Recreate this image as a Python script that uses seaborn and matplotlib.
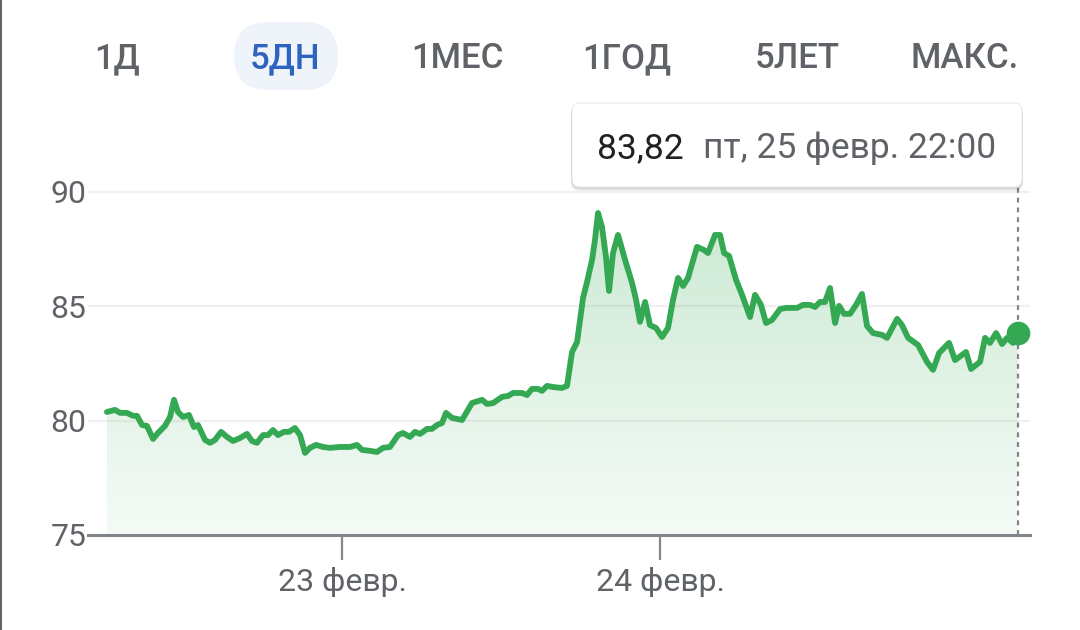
import numpy as np
import pandas as pd
import matplotlib
matplotlib.use("Agg")
import matplotlib.pyplot as plt
import seaborn as sns
from matplotlib.patches import FancyBboxPatch
from matplotlib.lines import Line2D

# ---- data (hours since 22 Feb 00:00, price) ----
hours = [6.26, 6.87, 7.25, 7.77, 8.23, 8.53, 8.91, 9.28, 9.74, 10.11,
         10.64, 11.02, 11.32, 11.62, 12.00, 12.45, 12.83, 13.13, 13.66, 14.04,
         14.42, 14.87, 15.32, 15.77, 16.30, 16.83, 17.21, 17.58, 18.04, 18.42,
         18.79, 19.17, 19.62, 20.00, 20.45, 20.83, 21.21, 21.58, 22.04, 22.57,
         23.09, 23.85, 24.60, 25.13, 25.51, 26.11, 26.64, 27.09, 27.62, 28.23,
         28.60, 29.13, 29.51, 29.89, 30.42, 30.79, 31.17, 31.55, 31.85, 32.30,
         33.06, 33.81, 34.57, 34.94, 35.40, 36.08, 36.53, 36.91, 37.58, 37.96,
         38.34, 38.79, 39.09, 39.47, 39.92, 40.60, 40.98, 41.36, 41.74, 42.19,
         42.49, 42.87, 43.09, 43.32, 43.62, 43.92, 44.15, 44.45, 44.83, 45.36,
         45.89, 46.19, 46.49, 46.87, 47.24, 47.70, 48.15, 48.60, 48.98, 49.36,
         49.74, 50.11, 50.79, 51.32, 51.62, 52.15, 52.53, 52.83, 53.21, 53.74,
         54.19, 54.79, 55.17, 55.62, 56.00, 56.45, 57.06, 57.51, 58.34, 58.79,
         59.32, 59.70, 60.07, 60.45, 60.83, 61.21, 61.51, 61.89, 62.34, 62.79,
         63.24, 63.62, 64.07, 64.75, 65.13, 65.89, 66.26, 66.72, 67.47, 68.15,
         68.60, 69.06, 69.81, 70.26, 71.09, 71.47, 72.15, 72.53, 72.90, 73.36,
         73.81, 74.19, 74.64, 75.02]
price = [80.38, 80.47, 80.34, 80.34, 80.21, 80.21, 79.81, 79.77, 79.20, 79.46,
         79.77, 80.16, 80.91, 80.38, 80.16, 80.25, 79.72, 79.81, 79.16, 79.03,
         79.16, 79.51, 79.29, 79.11, 79.24, 79.42, 79.11, 79.03, 79.37, 79.37,
         79.59, 79.37, 79.51, 79.51, 79.68, 79.37, 78.59, 78.81, 78.94, 78.85,
         78.81, 78.85, 78.85, 78.94, 78.72, 78.68, 78.63, 78.81, 78.85, 79.37,
         79.46, 79.29, 79.51, 79.42, 79.64, 79.64, 79.81, 79.90, 80.34, 80.12,
         80.03, 80.77, 80.91, 80.73, 80.77, 81.04, 81.08, 81.21, 81.21, 81.12,
         81.39, 81.39, 81.30, 81.52, 81.47, 81.43, 81.52, 83.00, 83.44, 85.37,
         86.06, 87.03, 87.90, 89.08, 88.47, 87.16, 85.67, 87.33, 88.12, 87.03,
         86.02, 85.28, 84.32, 85.19, 84.18, 84.05, 83.66, 84.05, 85.28, 86.24,
         85.89, 86.24, 87.60, 87.46, 87.33, 88.12, 88.12, 87.33, 87.20, 86.15,
         85.50, 84.53, 85.50, 85.06, 84.27, 84.40, 84.88, 84.93, 84.93, 85.06,
         85.06, 84.97, 85.19, 85.19, 85.80, 84.27, 85.02, 84.67, 84.67, 85.06,
         85.54, 84.14, 83.83, 83.75, 83.62, 84.45, 84.18, 83.62, 83.31, 82.57,
         82.22, 82.96, 83.40, 82.65, 83.00, 82.26, 82.57, 83.62, 83.40, 83.83,
         83.35, 83.62, 83.40, 83.82]

tabs = ["1Д", "5ДН", "1МЕС", "1ГОД", "5ЛЕТ", "МАКС."]
selected_tab = "5ДН"
y_ticks = [75, 80, 85, 90]
x_tick_hours = [24, 48]
x_tick_labels = ["23 февр.", "24 февр."]
tooltip_value = "83,82"
tooltip_date = "пт, 25 февр. 22:00"

# ---- style ----
sns.set_theme(style="white")
plt.rcParams['font.family'] = ['Roboto', 'DejaVu Sans']

W, H = 1080, 630
GREEN = '#34a853'
GRAY_TXT = '#5f6368'
AXIS_GRAY = '#80868b'

fig = plt.figure(figsize=(W / 100, H / 100), dpi=100)
fig.patch.set_facecolor('white')

ymin, ymax = 75, 90.2
ax_left, ax_right = 88, 1030
ax_bottom_px, ax_top_px = 535, 535 - (ymax - ymin) * 22.87
ax = fig.add_axes([ax_left / W, 1 - ax_bottom_px / H,
                   (ax_right - ax_left) / W, (ax_bottom_px - ax_top_px) / H])
xmin = 4.83
xmax = 75.92

df = pd.DataFrame({'hours': hours, 'price': price})

# gradient fill under the line
poly = ax.fill_between(df['hours'], df['price'], ymin,
                       facecolor='none', edgecolor='none')
grad = np.linspace(0, 1, 256)
rgba = np.zeros((256, 1, 4))
rgba[..., :3] = matplotlib.colors.to_rgb(GREEN)
rgba[:, 0, 3] = 0.05 + 0.22 * grad
img = ax.imshow(rgba, extent=[xmin, xmax, ymin, ymax], origin='lower',
                aspect='auto', zorder=1, interpolation='bilinear')
img.set_clip_path(poly.get_paths()[0], transform=ax.transData)

# horizontal gridlines
for yv in y_ticks[1:]:
    ax.axhline(yv, color='#f0f0f0', lw=1.6, zorder=0.5)

# line
sns.lineplot(data=df, x='hours', y='price', color=GREEN, lw=4.2, ax=ax,
             zorder=3, legend=False)

# dotted cursor line and end dot
ax.axvline(df['hours'].iloc[-1], color=AXIS_GRAY, lw=1.6,
           linestyle=(0, (2.2, 2.2)), zorder=2)
ax.scatter([df['hours'].iloc[-1]], [df['price'].iloc[-1]], s=290,
           color=GREEN, zorder=4, linewidths=0)

ax.set_xlim(xmin, xmax)
ax.set_ylim(ymin, ymax)
ax.set_xlabel('')
ax.set_ylabel('')
for s in ['top', 'right', 'left']:
    ax.spines[s].set_visible(False)
ax.spines['bottom'].set_color(AXIS_GRAY)
ax.spines['bottom'].set_linewidth(2.2)
ax.spines['bottom'].set_zorder(5)

ax.set_yticks(y_ticks)
ax.set_yticklabels([str(v) for v in y_ticks])
ax.set_xticks(x_tick_hours)
ax.set_xticklabels(x_tick_labels)
ax.tick_params(axis='x', bottom=True, length=18, width=1.6, color=AXIS_GRAY,
               pad=5, labelsize=23, labelcolor=GRAY_TXT, direction='out')
ax.tick_params(axis='y', left=False, length=0, pad=1, labelsize=23,
               labelcolor=GRAY_TXT)
ax.set_facecolor('none')

# ---- tabs on top ----
tab_x = [117, 285, 457, 627, 797, 965]
pill = FancyBboxPatch((234, H - 90), 104, 68,
                      boxstyle="round,pad=0,rounding_size=34",
                      transform=None, fc='#eff4fb', ec='none', zorder=0)
fig.add_artist(pill)
for label, cx in zip(tabs, tab_x):
    col = '#2f63c0' if label == selected_tab else GRAY_TXT
    fig.text(cx / W, 1 - 68 / H, label, ha='center', va='baseline',
             fontsize=25, fontweight='medium', color=col)

# ---- tooltip ----
bx, by, bw, bh = 572, 103, 450, 84
for i, a in enumerate([0.05, 0.05, 0.06]):
    sh = FancyBboxPatch((bx - 1, H - by - bh - 2 - i), bw + 2, bh + 1,
                        boxstyle="round,pad=0,rounding_size=9",
                        transform=None, fc='black', ec='none', alpha=a,
                        zorder=6)
    fig.add_artist(sh)
box = FancyBboxPatch((bx, H - by - bh), bw, bh,
                     boxstyle="round,pad=0,rounding_size=8",
                     transform=None, fc='white', ec='#e6e6e6', lw=0.6,
                     zorder=7)
fig.add_artist(box)
t1 = fig.text(597 / W, 1 - 158 / H, tooltip_value, ha='left', va='baseline',
              fontsize=25.5, color='#202124', zorder=8)
t2 = fig.text(703 / W, 1 - 158 / H, tooltip_date, ha='left', va='baseline',
              fontsize=25.5, color=GRAY_TXT, zorder=8)

# left screen edge line
fig.add_artist(Line2D([1.0 / W, 1.0 / W], [0, 1], transform=fig.transFigure,
                      color='#444444', lw=1.2))

fig.savefig('out.png', dpi=100, facecolor='white')
